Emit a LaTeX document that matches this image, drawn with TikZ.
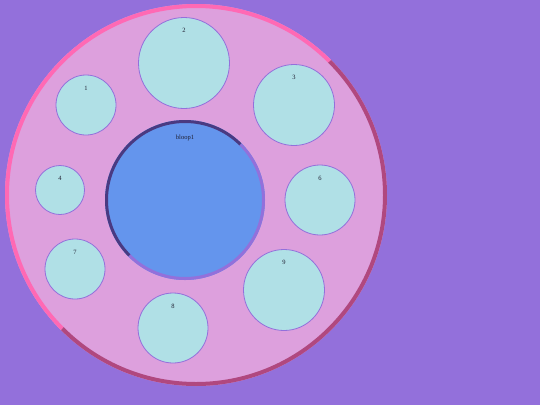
\documentclass[tikz,border=0pt]{standalone}
\usepackage{fontspec}
\setmainfont{Liberation Serif}
\definecolor{bgpurple}{HTML}{9370DB}
\definecolor{plumfill}{HTML}{DDA0DD}
\definecolor{hotpink}{HTML}{FF69B4}
\definecolor{darkpink}{HTML}{B0487F}
\definecolor{cornflower}{HTML}{6495ED}
\definecolor{darkslate}{HTML}{4A3A82}
\definecolor{powder}{HTML}{B0E0E6}
\definecolor{labeltext}{HTML}{1E1E30}
\begin{document}
\begin{tikzpicture}[x=1pt,y=1pt]
\useasboundingbox (0,0) rectangle (540,-405);
\fill[bgpurple] (0,0) rectangle (540,-405);

\node[circle,fill=plumfill,inner sep=0,minimum size=382pt] (ring) at (196,-195) {};
\draw[hotpink,line width=4pt] ([shift={(45:189)}]ring.center) arc[start angle=45,end angle=225,radius=189];
\draw[darkpink,line width=4pt] ([shift={(225:189)}]ring.center) arc[start angle=225,end angle=405,radius=189];

\node[circle,fill=cornflower,inner sep=0,minimum size=160pt] (bloop) at (185,-200) {};
\draw[darkslate,line width=3pt] ([shift={(45:78.5)}]bloop.center) arc[start angle=45,end angle=225,radius=78.5];
\draw[bgpurple,line width=3pt] ([shift={(225:78.5)}]bloop.center) arc[start angle=225,end angle=405,radius=78.5];

\begin{scope}[every node/.style={circle,draw=bgpurple,fill=powder,inner sep=0,line width=0.8pt}]
\node[minimum size=60pt] (c1) at (86,-105) {};
\node[minimum size=91pt] (c2) at (184,-63) {};
\node[minimum size=81pt] (c3) at (294,-105) {};
\node[minimum size=49pt] (c4) at (60,-190) {};
\node[minimum size=70pt] (c6) at (320,-200) {};
\node[minimum size=60pt] (c7) at (75,-269) {};
\node[minimum size=70pt] (c8) at (173,-328) {};
\node[minimum size=81pt] (c9) at (284,-290) {};
\end{scope}

\begin{scope}[every node/.style={text=labeltext,inner sep=0,font=\fontsize{6.5}{7}\selectfont}]
\node (l1) at ([yshift=-13.5pt]c1.north) {1};
\node (l2) at ([yshift=-13.5pt]c2.north) {2};
\node (l3) at ([yshift=-13.5pt]c3.north) {3};
\node (l4) at ([yshift=-13.5pt]c4.north) {4};
\node (l6) at ([yshift=-13.5pt]c6.north) {6};
\node (l7) at ([yshift=-13.5pt]c7.north) {7};
\node (l8) at ([yshift=-13.5pt]c8.north) {8};
\node (l9) at ([yshift=-13.5pt]c9.north) {9};
\node (lb) at ([yshift=-18pt]bloop.north) {bloop1};
\end{scope}
\end{tikzpicture}
\end{document}
